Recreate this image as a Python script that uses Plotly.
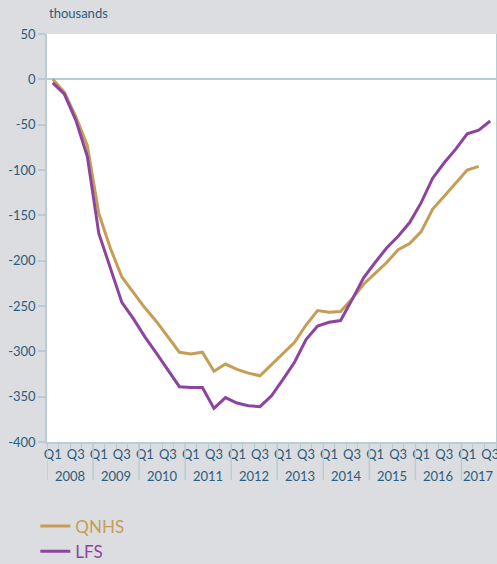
import plotly.graph_objects as go

years = ["2008", "2009", "2010", "2011", "2012", "2013", "2014", "2015", "2016", "2017"]
quarter_names = ["Q1", "Q2", "Q3", "Q4"]
quarters = [f"{y} {q}" for y in years for q in quarter_names][:39]
quarter_labels = [q.split(" ")[1] if q.split(" ")[1] in ("Q1", "Q3") else "" for q in quarters]

qnhs = [0, -14, -41, -73, -148, -186, -218, -235, -252, -267, -284, -301, -303, -301,
        -322, -314, -320, -324, -327, -315, -302, -290, -271, -255, -257, -256, -242,
        -226, -214, -202, -188, -181, -168, -143, -129, -115, -100, -96]
lfs = [-4, -16, -45, -85, -170, -208, -246, -264, -284, -302, -320, -339, -340, -340,
       -363, -351, -357, -360, -361, -349, -331, -312, -287, -272, -268, -266, -243,
       -219, -202, -186, -173, -158, -136, -109, -92, -77, -60, -56, -46]

y_ticks = [50, 0, -50, -100, -150, -200, -250, -300, -350, -400]
y_ticktext = ["50", "0", "-50", "-100", "-150", "-200", "-250", "-300", "-350", "-400"]

GOLD = "#c59d55"
PURPLE = "#8c449f"
AXIS = "#b7cdd5"
TEXT = "#2b5c7b"
BG = "#dcdde0"
FONT = "Lato"

fig = go.Figure()
fig.add_trace(go.Scatter(x=quarters[:len(qnhs)], y=qnhs, mode="lines",
                         line=dict(color=GOLD, width=3),
                         name=f'<span style="color:{GOLD}">QNHS</span>'))
fig.add_trace(go.Scatter(x=quarters[:len(lfs)], y=lfs, mode="lines",
                         line=dict(color=PURPLE, width=3),
                         name=f'<span style="color:{PURPLE}">LFS</span>'))

# year dividers and labels
n = len(quarters)
for k, yr in enumerate(years):
    start = 4 * k
    end = min(4 * k + 4, n)
    fig.add_shape(type="line", xref="x", yref="paper", x0=start - 0.5, x1=start - 0.5,
                  y0=0, y1=-0.094, line=dict(color=AXIS, width=1.5))
    fig.add_annotation(x=(start + end - 1) / 2, y=-0.083, xref="x", yref="paper",
                       text=yr, showarrow=False, yanchor="middle",
                       font=dict(family=FONT, size=13, color=TEXT))

fig.add_annotation(x=0, y=1.051, xref="paper", yref="paper", text="thousands",
                   showarrow=False, xanchor="left", yanchor="middle",
                   font=dict(family=FONT, size=13, color=TEXT))

fig.update_layout(
    width=497, height=564,
    paper_bgcolor=BG, plot_bgcolor="white",
    margin=dict(l=47, r=1, t=34, b=122, autoexpand=False),
    font=dict(family=FONT, color=TEXT),
    showlegend=True,
    legend=dict(x=-0.026, y=-0.163, xanchor="left", yanchor="top",
                font=dict(family=FONT, size=17), itemwidth=30,
                bgcolor="rgba(0,0,0,0)", tracegroupgap=0),
    xaxis=dict(type="category", categoryorder="array", categoryarray=quarters,
               range=[-0.5, n - 0.5], tickmode="array", tickvals=quarters,
               ticktext=quarter_labels, tickson="boundaries", ticks="outside",
               ticklen=7, tickcolor=AXIS, tickwidth=1, showgrid=False,
               showline=True, linecolor=AXIS, linewidth=1.5,
               tickfont=dict(family=FONT, size=13, color=TEXT), tickangle=0),
    yaxis=dict(range=[-400, 50], tickmode="array", tickvals=y_ticks, ticktext=y_ticktext,
               ticks="outside", ticklen=7, tickcolor=AXIS, tickwidth=1.5,
               showgrid=False, zeroline=True, zerolinecolor=AXIS, zerolinewidth=1.5,
               showline=True, linecolor=AXIS, linewidth=1.5, mirror=True,
               tickfont=dict(family=FONT, size=13, color=TEXT)),
)

fig.write_html("out.html", config={"displayModeBar": False},
               post_script="document.body.style.margin='0';document.body.style.overflow='hidden';")
